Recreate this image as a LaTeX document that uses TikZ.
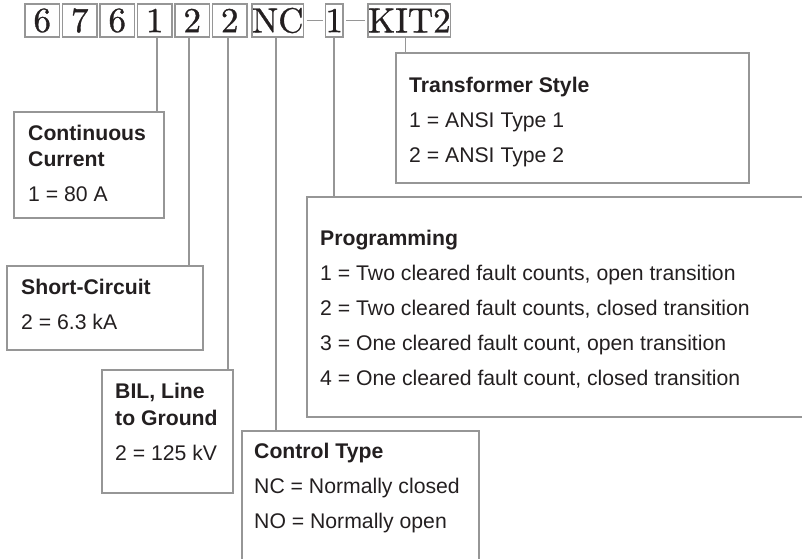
\documentclass[tikz,border=0pt]{standalone}
\usepackage{fontspec}
\newfontfamily\labelfont{Liberation Sans}
\newfontfamily\codefont{lmroman10-regular.otf}[FakeBold=0.9]
\usetikzlibrary{positioning}

\definecolor{framegray}{RGB}{150,150,150}
\definecolor{inkdark}{RGB}{35,31,32}

\tikzset{
  code/.style = {shape=rectangle, draw=framegray, line width=1.6pt, inner sep=0pt, outer sep=0pt,
    minimum width=34.5pt, minimum height=33pt, text=inkdark, font=\codefont\fontsize{35}{36}\selectfont},
  keybox/.style = {shape=rectangle, draw=framegray, line width=1.6pt, inner sep=0pt, outer sep=0pt,
    anchor=north west},
  keytext/.style = {anchor=north west, align=left, inner sep=0pt, text=inkdark,
    font=\labelfont\fontsize{21.2}{35}\selectfont},
  link/.style = {draw=framegray, line width=1.6pt}
}

\begin{document}
\begin{tikzpicture}[x=1pt, y=-1pt]
  \useasboundingbox (0,0) rectangle (802,558);
  \clip (0,0) rectangle (802,558);

  % catalogue number
  \node[code] (d1) at (42.25,20.5) {6};
  \node[code, right=3pt of d1] (d2) {7};
  \node[code, right=3pt of d2] (d3) {6};
  \node[code, right=3pt of d3] (d4) {1};
  \node[code, right=3pt of d4] (d5) {2};
  \node[code, right=3pt of d5] (d6) {2};
  \node[code, minimum width=51pt, right=5pt of d6] (nc) {NC};
  \node[code, minimum width=16pt, right=22pt of nc] (k1) {1};
  \node[code, minimum width=82pt, right=25pt of k1] (kit) {KIT2};
  \draw[link] ([xshift=3pt]nc.east) -- ([xshift=-3pt]k1.west);
  \draw[link] ([xshift=3pt]k1.east) -- ([xshift=-3pt]kit.west);

  % key boxes
  \node[keybox, minimum width=150pt, minimum height=106pt] (cur) at (14,112) {};
  \node[keybox, minimum width=196pt, minimum height=84pt] (short) at (7,266) {};
  \node[keybox, minimum width=131pt, minimum height=123pt] (bil) at (102,370) {};
  \node[keybox, minimum width=237pt, minimum height=140pt] (ctl) at (242,431) {};
  \node[keybox, minimum width=510pt, minimum height=220pt] (prog) at (307,197) {};
  \node[keybox, minimum width=353pt, minimum height=130pt] (trf) at (396,53) {};

  \node[keytext] (curtxt) at (28,124.7) {\textbf{Continuous}\\[-9pt]\textbf{Current}\\1 = 80 A};
  \node[keytext] (shorttxt) at (21,278.7) {\textbf{Short-Circuit}\\2 = 6.3 kA};
  \node[keytext] (biltxt) at (115,382.7) {\textbf{BIL, Line}\\[-8pt]\textbf{to Ground}\\2 = 125 kV};
  \node[keytext] (ctltxt) at (254,442.7) {\textbf{Control Type}\\NC = Normally closed\\NO = Normally open};
  \node[keytext] (progtxt) at (320,230.2) {\textbf{Programming}\\
    1 = Two cleared fault counts, open transition\\
    2 = Two cleared fault counts, closed transition\\
    3 = One cleared fault count, open transition\\
    4 = One cleared fault count, closed transition};
  \node[keytext] (trftxt) at (409,76.7) {\textbf{Transformer Style}\\1 = ANSI Type 1\\2 = ANSI Type 2};

  % leaders
  \draw[link] ([xshift=2pt]d4.south) -- ([xshift=2pt]d4.south |- cur.north);
  \draw[link] ([xshift=-3pt]d5.south) -- ([xshift=-3pt]d5.south |- short.north);
  \draw[link] ([xshift=-2pt]d6.south) -- ([xshift=-2pt]d6.south |- bil.north);
  \draw[link] ([xshift=-2pt]nc.south) -- ([xshift=-2pt]nc.south |- ctl.north);
  \draw[link] (k1.south) -- (k1.south |- prog.north);
  \draw[link] ([xshift=-4pt]kit.south) -- ([xshift=-4pt]kit.south |- trf.north);
\end{tikzpicture}
\end{document}
